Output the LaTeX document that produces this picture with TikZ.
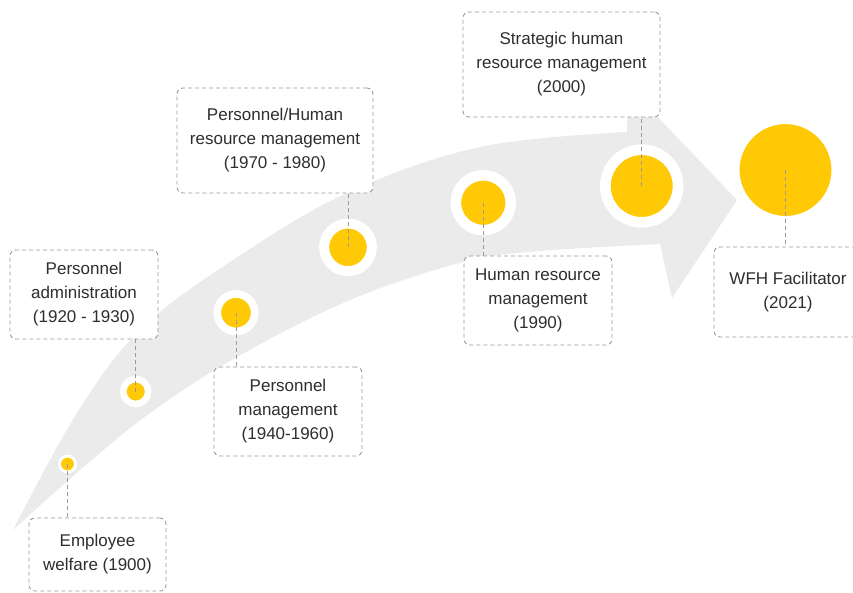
\documentclass[tikz,border=0pt]{standalone}
\usepackage{fontspec}
\setmainfont{Liberation Sans}
\definecolor{band}{HTML}{EBEBEB}
\definecolor{gold}{HTML}{FFC905}
\definecolor{edge}{HTML}{9A9A9A}
\definecolor{ink}{HTML}{2E2E2E}
\begin{document}
\begin{tikzpicture}[x=1pt,y=-1pt,
  box/.style={draw=edge, dash pattern=on 4pt off 3pt, line width=0.9pt, rounded corners=6pt, fill=white, inner sep=0pt, align=center, text=ink, font=\fontsize{17}{24}\selectfont},
  dot/.style={circle, fill=gold, draw=white, inner sep=0pt, outer sep=0pt},
  conn/.style={draw=edge, dash pattern=on 4pt off 3pt, line width=0.9pt}]
\clip (0,0) rectangle (853,592);
\fill[white] (0,0) rectangle (853,592);
% curved arrow band
\fill[band] plot[smooth, tension=0.6] coordinates {(13,530) (77,413) (140,330) (230,262) (347,193) (480,147) (627,132)}
  -- (627,85) -- (737,200) -- (672,298) -- (660,244)
  -- plot[smooth, tension=0.6] coordinates {(660,244) (540,251) (463,262) (350,300) (237,357) (150,413) (80,470) (13,530)} -- cycle;
% boxes
\node[box, minimum width=137pt, minimum height=73pt] (b1) at (97.5,554.5) {Employee\\welfare (1900)};
\node[box, minimum width=148pt, minimum height=89pt] (b2) at (84,294.5) {Personnel\\administration\\(1920 - 1930)};
\node[box, minimum width=148pt, minimum height=89pt] (b3) at (288,411.5) {Personnel\\management\\(1940-1960)};
\node[box, minimum width=196pt, minimum height=105pt] (b4) at (275,140.5) {Personnel/Human\\resource management\\(1970 - 1980)};
\node[box, minimum width=148pt, minimum height=89pt] (b5) at (538,300.5) {Human resource\\management\\(1990)};
\node[box, minimum width=197pt, minimum height=105pt] (b6) at (561.5,64.5) {Strategic human\\resource management\\(2000)};
\node[box, minimum width=148pt, minimum height=90pt] (b7) at (788,292) {WFH Facilitator\\(2021)};
% dots
\node[dot, line width=3pt, minimum size=16pt] (c1) at (67.5,464) {};
\node[dot, line width=6.6pt, minimum size=25pt] (c2) at (135.7,391.5) {};
\node[dot, line width=7.7pt, minimum size=37.5pt] (c3) at (236,312.7) {};
\node[dot, line width=10pt, minimum size=47.7pt] (c4) at (348,247.3) {};
\node[dot, line width=10.5pt, minimum size=54.9pt] (c5) at (483.3,202.7) {};
\node[dot, line width=10.7pt, minimum size=72.7pt] (c6) at (641.7,186) {};
\node[dot, line width=9pt, minimum size=101pt] (c7) at (785.5,170) {};
% connectors
\draw[conn] (c1.center) -- (c1.center |- b1.north);
\draw[conn] (c2.center) -- (c2.center |- b2.south);
\draw[conn] (c3.center) -- (c3.center |- b3.north);
\draw[conn] (c4.center) -- (c4.center |- b4.south);
\draw[conn] (c5.center) -- (c5.center |- b5.north);
\draw[conn] (c6.center) -- (c6.center |- b6.south);
\draw[conn] (c7.center) -- (c7.center |- b7.north);
\end{tikzpicture}
\end{document}
